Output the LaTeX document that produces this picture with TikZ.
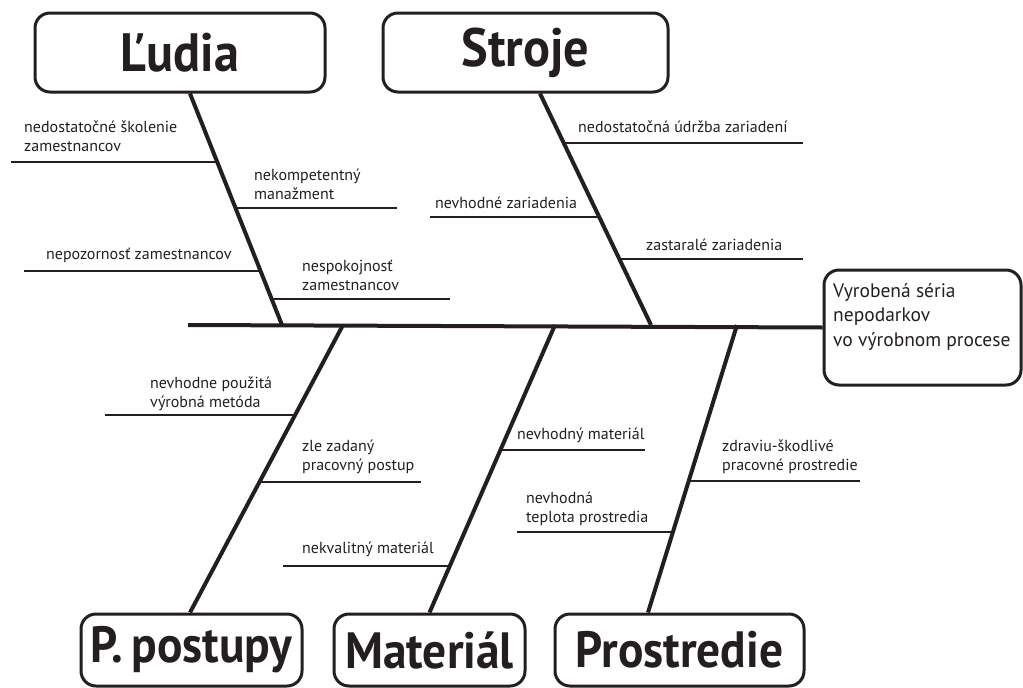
\documentclass[tikz,border=0pt]{standalone}
\usepackage{fontspec}
\setmainfont{PT Sans}
\newfontfamily\headfont[FakeStretch=0.93]{PT Sans}
\definecolor{ink}{HTML}{231F20}
\begin{document}
\begin{tikzpicture}[x=1pt,y=-1pt,
  head/.style={draw=ink, line width=3pt, rounded corners=15pt, inner sep=0pt,
    text=ink, font=\headfont\bfseries\fontsize{54}{60}\selectfont},
  headlow/.style={head, font=\headfont\bfseries\fontsize{51}{58}\selectfont},
  bone/.style={draw=ink, line width=4pt},
  twig/.style={draw=ink, line width=2.8pt},
  lbl/.style={anchor=base west, inner sep=0pt, text=ink, align=left,
    font=\fontsize{16}{19}\selectfont}]
\useasboundingbox (0,0) rectangle (1023,688);

% category boxes
\node[head, minimum width=290pt, minimum height=79pt] (ludia) at (180,52.5) {Ľudia};
\node[head, minimum width=285pt, minimum height=79pt] (stroje) at (525.5,52.5) {Stroje};
\node[headlow, minimum width=221pt, minimum height=72pt] (postupy) at (191.5,650) {P.\,postupy};
\node[headlow, minimum width=191pt, minimum height=72pt] (material) at (429.5,650) {Materiál};
\node[headlow, minimum width=249pt, minimum height=72pt] (prostredie) at (679.5,650) {Prostredie};

% effect box
\node[draw=ink, line width=3pt, rounded corners=15pt, minimum width=197pt,
  minimum height=115pt, inner sep=0pt] (effect) at (922.5,327.5) {};
\node[anchor=base west, inner sep=0pt, text=ink, align=left,
  font=\fontsize{19.5}{24.5}\selectfont] (efftext) at (833,346)
  {Vyrobená séria\\nepodarkov\\vo výrobnom procese};

% spine
\coordinate (spineL) at (188,325);
\coordinate (jL) at (282,325);
\coordinate (jS) at (651,325);
\coordinate (jP) at (343,325);
\coordinate (jM) at (555,325);
\coordinate (jE) at (737,325);
\draw[bone] (spineL) -- (effect.west);

% sub-causes (twigs) -- Ľudia
\draw[twig] (11,162) -- (217,162);
\draw[twig] (235,208) -- (397,208);
\draw[twig] (24,271) -- (261,271);
\draw[twig] (272,299) -- (450,299);
% Stroje
\draw[twig] (564,143) -- (803,143);
\draw[twig] (430,217) -- (600,217);
\draw[twig] (619,259) -- (803,259);
% P. postupy
\draw[twig] (105,415) -- (296,415);
\draw[twig] (260,482) -- (421,482);
% Materiál
\draw[twig] (500,450) -- (645,450);
\draw[twig] (283,566) -- (450,566);
% Prostredie
\draw[twig] (689,481) -- (860,481);
\draw[twig] (517,532) -- (673,532);

% bones
\draw[bone] ([xshift=10pt]ludia.south) -- (jL);
\draw[bone] ([xshift=14.5pt]stroje.south) -- (jS);
\draw[bone] ([xshift=-1.5pt]postupy.north) -- (jP);
\draw[bone] (material.north) -- (jM);
\draw[bone] ([xshift=-31.5pt]prostredie.north) -- (jE);

% labels (anchor = baseline of last line)
\node[lbl] (l1) at (24,151) {nedostatočné školenie\\zamestnancov};
\node[lbl] (l2) at (254,199) {nekompetentný\\manažment};
\node[lbl] (l3) at (46,259) {nepozornosť zamestnancov};
\node[lbl] (l4) at (302,290) {nespokojnosť\\zamestnancov};
\node[lbl] (s1) at (578,132) {nedostatočná údržba zariadení};
\node[lbl] (s2) at (435,208) {nevhodné zariadenia};
\node[lbl] (s3) at (646,250) {zastaralé zariadenia};
\node[lbl] (p1) at (150,407) {nevhodne použitá\\výrobná metóda};
\node[lbl] (p2) at (302,470) {zle zadaný\\pracovný postup};
\node[lbl] (m1) at (302,553) {nekvalitný materiál};
\node[lbl] (m2) at (517,439) {nevhodný materiál};
\node[lbl] (e1) at (722,470) {zdraviu-škodlivé\\pracovné prostredie};
\node[lbl] (e2) at (526,522) {nevhodná\\teplota prostredia};
\end{tikzpicture}
\end{document}
